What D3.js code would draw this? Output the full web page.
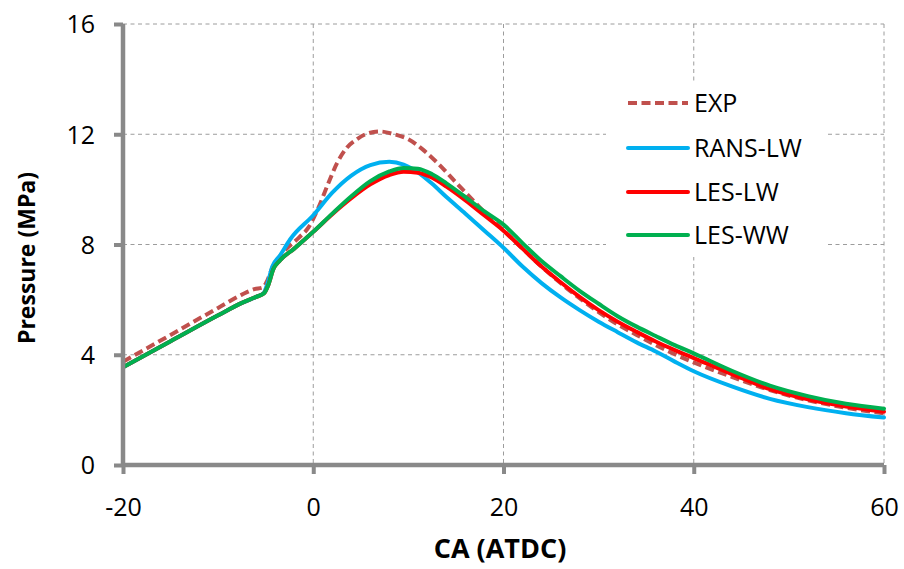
<!DOCTYPE html>
<html>
<head>
<meta charset="utf-8">
<script src="https://cdn.jsdelivr.net/npm/d3@7/dist/d3.min.js"></script>
<style>
  html, body { margin: 0; padding: 0; background: #fff; }
  svg { display: block; }
  text { font-family: "Open Sans", "Noto Sans", sans-serif; fill: #000; }
</style>
</head>
<body>
<svg id="chart" width="904" height="569"></svg>
<script>
// Crank angle (deg ATDC) and in-cylinder pressure (MPa) for each case
const expCA   = [-20, -15, -10, -7.5, -6.2, -5.3, -4.8, -4.3, -3.2, -1.5, -0.5, 0.5, 1.5, 2.5, 3.5, 4.5, 5.5, 7, 8.5, 10, 11.5, 13, 15, 17.5, 19.5, 22, 24, 26, 28, 30, 32, 34, 36, 38, 40, 44, 48, 52, 56, 60];
const expP    = [3.75, 4.72, 5.7, 6.18, 6.38, 6.44, 6.72, 7.15, 7.7, 8.25, 8.62, 9.3, 10.15, 10.95, 11.5, 11.8, 12.0, 12.1, 12.0, 11.82, 11.45, 10.98, 10.25, 9.35, 8.68, 7.85, 7.2, 6.6, 6.05, 5.55, 5.1, 4.72, 4.35, 4.02, 3.72, 3.2, 2.72, 2.35, 2.08, 1.87];

const ransCA  = [-20, -15, -10, -7.5, -6, -5.2, -4.8, -4.3, -3.5, -2.4, 0, 2, 4, 6, 8, 9.5, 11, 12.5, 14, 16, 18, 20, 22, 24, 26, 28, 30, 32, 34, 36, 38, 40, 44, 48, 52, 56, 60];
const ransP   = [3.55, 4.49, 5.43, 5.88, 6.1, 6.25, 6.6, 7.2, 7.6, 8.2, 9.06, 9.88, 10.5, 10.88, 11.0, 10.9, 10.62, 10.2, 9.72, 9.12, 8.5, 7.88, 7.2, 6.6, 6.08, 5.62, 5.2, 4.82, 4.45, 4.12, 3.75, 3.4, 2.85, 2.4, 2.1, 1.88, 1.72];

const lesLwCA = [-20, -15, -10, -7.5, -6, -5.2, -4.7, -4.2, -3.5, -2, 0, 2, 4, 6, 8, 9.5, 11, 12.5, 14, 16, 18, 20, 22, 24, 26, 28, 30, 32, 34, 36, 38, 40, 44, 48, 52, 56, 60];
const lesLwP  = [3.55, 4.49, 5.43, 5.88, 6.1, 6.22, 6.55, 7.1, 7.42, 7.85, 8.46, 9.1, 9.68, 10.18, 10.52, 10.64, 10.6, 10.42, 10.1, 9.6, 9.05, 8.5, 7.85, 7.2, 6.63, 6.1, 5.62, 5.2, 4.83, 4.48, 4.17, 3.88, 3.3, 2.75, 2.38, 2.12, 1.93];

const lesWwCA = [-20, -15, -10, -7.5, -6, -5.2, -4.7, -4.2, -3.5, -2, 0, 2, 4, 6, 8, 9.5, 11, 12.5, 14, 16, 18, 20, 22, 24, 26, 28, 30, 32, 34, 36, 38, 40, 44, 48, 52, 56, 60];
const lesWwP  = [3.55, 4.49, 5.43, 5.88, 6.1, 6.22, 6.55, 7.1, 7.42, 7.85, 8.46, 9.12, 9.75, 10.3, 10.65, 10.78, 10.75, 10.55, 10.22, 9.72, 9.2, 8.72, 8.05, 7.4, 6.85, 6.32, 5.85, 5.4, 5.02, 4.68, 4.35, 4.05, 3.42, 2.88, 2.5, 2.22, 2.04];

const seriesNames  = ["EXP", "RANS-LW", "LES-LW", "LES-WW"];
const seriesColors = ["#c0504d", "#00b0f0", "#ff0000", "#00b050"];
const xTicks = [-20, 0, 20, 40, 60];
const yTicks = [0, 4, 8, 12, 16];

const series = [
  { name: seriesNames[0], color: seriesColors[0], dashed: true,  pts: expCA.map((c, i) => [c, expP[i]]) },
  { name: seriesNames[1], color: seriesColors[1], dashed: false, pts: ransCA.map((c, i) => [c, ransP[i]]) },
  { name: seriesNames[2], color: seriesColors[2], dashed: false, pts: lesLwCA.map((c, i) => [c, lesLwP[i]]) },
  { name: seriesNames[3], color: seriesColors[3], dashed: false, pts: lesWwCA.map((c, i) => [c, lesWwP[i]]) }
];

const svg = d3.select("#chart");
const plot = { left: 123, right: 884, top: 24, bottom: 465 };

const x = d3.scaleLinear().domain([-20, 60]).range([plot.left, plot.right]);
const y = d3.scaleLinear().domain([0, 16]).range([plot.bottom, plot.top]);

const axisGray = "#898989";
const gridGray = "#9c9c9c";

// dashed major gridlines
const grid = svg.append("g");
grid.selectAll("line.gx").data(xTicks.filter(t => t !== -20)).join("line")
  .attr("x1", d => x(d)).attr("x2", d => x(d))
  .attr("y1", plot.top).attr("y2", plot.bottom)
  .attr("stroke", gridGray).attr("stroke-width", 1).attr("stroke-dasharray", "4,3.5");
grid.selectAll("line.gy").data(yTicks.filter(t => t !== 0)).join("line")
  .attr("x1", plot.left).attr("x2", plot.right)
  .attr("y1", d => y(d)).attr("y2", d => y(d))
  .attr("stroke", gridGray).attr("stroke-width", 1).attr("stroke-dasharray", "4,3.5");

// legend backdrop hides the gridlines behind it
svg.append("rect")
  .attr("x", 606).attr("y", 84).attr("width", 220).attr("height", 173)
  .attr("fill", "#fff");

// pressure traces
const line = d3.line()
  .x(d => x(d[0])).y(d => y(d[1]))
  .curve(d3.curveMonotoneX);

svg.append("g").selectAll("path").data(series).join("path")
  .attr("d", d => line(d.pts))
  .attr("fill", "none")
  .attr("stroke", d => d.color)
  .attr("stroke-width", 4)
  .attr("stroke-linejoin", "round")
  .attr("stroke-linecap", d => d.dashed ? "butt" : "round")
  .attr("stroke-dasharray", d => d.dashed ? "9,4.5" : null);

// axes
const fmt = d => String(d);
const xAxis = d3.axisBottom(x).tickValues(xTicks).tickSize(9).tickFormat(fmt);
const yAxis = d3.axisLeft(y).tickValues(yTicks).tickSize(9).tickFormat(fmt);

const gx = svg.append("g").attr("transform", `translate(0,${plot.bottom})`).call(xAxis);
const gy = svg.append("g").attr("transform", `translate(${plot.left},0)`).call(yAxis);

[gx, gy].forEach(g => {
  g.select(".domain").attr("stroke", axisGray).attr("stroke-width", 4.5);
  g.selectAll(".tick line").attr("stroke", axisGray).attr("stroke-width", 4);
  g.selectAll(".tick text").attr("fill", "#000").style("font-size", "25px")
    .style("font-family", '"Open Sans", sans-serif');
});
gx.select(".domain").attr("d", `M${plot.left},0H${plot.right}`);
gy.select(".domain").attr("d", `M0,${plot.bottom}V${plot.top}`);
gx.selectAll(".tick text").attr("dy", null).attr("y", 51);
gy.selectAll(".tick text").attr("x", -28).attr("dy", "0.35em");

// axis titles
svg.append("text")
  .attr("x", 500).attr("y", 558)
  .attr("text-anchor", "middle")
  .style("font-size", "27px").style("font-weight", "bold")
  .text("CA (ATDC)");

svg.append("text")
  .attr("transform", "translate(35,258) rotate(-90)")
  .attr("text-anchor", "middle")
  .style("font-size", "23px").style("font-weight", "bold")
  .text("Pressure (MPa)");

// legend
const legendRows = [103, 148, 192, 235];
const lg = svg.append("g");
series.forEach((s, i) => {
  lg.append("line")
    .attr("x1", 628).attr("x2", 688)
    .attr("y1", legendRows[i]).attr("y2", legendRows[i])
    .attr("stroke", s.color).attr("stroke-width", 4)
    .attr("stroke-linecap", s.dashed ? "butt" : "round")
    .attr("stroke-dasharray", s.dashed ? "9,4.5" : null);
  lg.append("text")
    .attr("x", 694).attr("y", legendRows[i]).attr("dy", "0.36em")
    .style("font-size", "25px")
    .text(s.name);
});
</script>
</body>
</html>
